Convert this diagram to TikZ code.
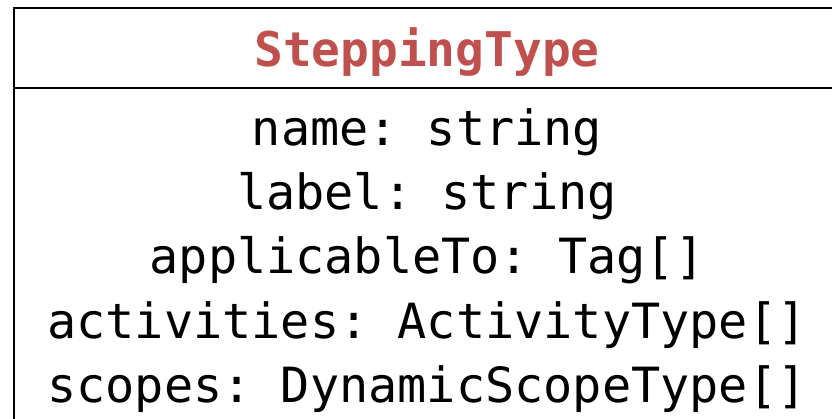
\documentclass[tikz,border=0pt]{standalone}
\usepackage{fontspec}
\setmonofont{DejaVu Sans Mono}
\definecolor{titlered}{HTML}{C0504D}
\begin{document}
\begin{tikzpicture}[x=1pt,y=-1pt,
  classframe/.style={draw=black,line width=2.6pt},
  classtitle/.style={anchor=base,inner sep=0pt,text=titlered,
    font=\ttfamily\bfseries\fontsize{47.8}{48}\selectfont},
  attr/.style={anchor=base,inner sep=0pt,text=black,
    font=\ttfamily\fontsize{48.5}{49}\selectfont}]
  \useasboundingbox (0,0) rectangle (832,418);
  \clip (0,0) rectangle (832,418);
  % class frame and header separator
  \draw[classframe] (14,8) rectangle (860,460);
  \coordinate (sepL) at (14,88);
  \coordinate (sepR) at (860,88);
  \draw[classframe] (sepL) -- (sepR);
  % class name
  \node[classtitle] (title) at (427,66) {SteppingType};
  % attributes
  \node[attr] (a1) at (427,145) {name: string};
  \node[attr] (a2) at (427,209) {label: string};
  \node[attr] (a3) at (427,273) {applicableTo: Tag[]};
  \node[attr] (a4) at (427,338) {activities: ActivityType[]};
  \node[attr] (a5) at (427,402) {scopes: DynamicScopeType[]};
\end{tikzpicture}
\end{document}
